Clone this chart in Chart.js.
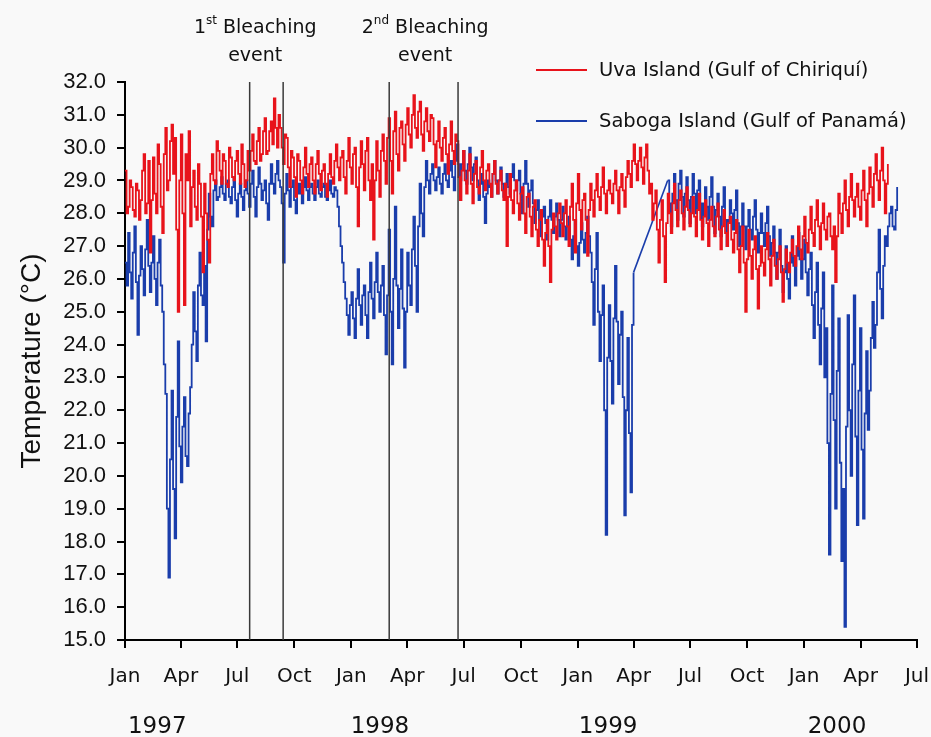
<!DOCTYPE html>
<html>
<head>
<meta charset="utf-8">
<script src="https://cdn.jsdelivr.net/npm/chart.js@4.4.1/dist/chart.umd.min.js"></script>
<style>
  html, body { margin: 0; padding: 0; background: #f9f9f9; }
  #wrap { width: 931px; height: 737px; }
</style>
</head>
<body>
<div id="wrap"><canvas id="tempChart" width="931" height="737"></canvas></div>
<script>
// one reading every 2.5 days, starting 1 Jan 1997
const STEP_DAYS = 2.5;

// Uva Island (Gulf of Chiriqui), deg C
const uvaTemps = [
  29.3, 28.0, 28.2, 29.0, 28.8, 28.1, 27.9, 28.9, 28.7, 27.8, 28.4, 29.3, 29.8, 28.0, 28.3, 29.6, 26.8, 28.4, 29.7, 28.6,
  28.0, 30.1, 29.5, 28.2, 27.4, 29.8, 30.6, 28.7, 29.0, 30.2, 30.7, 29.2, 30.3, 27.5, 25.0, 29.0, 30.4, 28.0, 25.2, 29.8,
  29.0, 30.5, 27.6, 28.8, 29.3, 28.2, 27.8, 29.5, 28.9, 27.9, 26.2, 28.9, 28.0, 27.2, 26.5, 29.2, 29.8, 29.0, 28.9, 30.2,
  29.9, 29.3, 28.9, 29.8, 29.6, 28.9, 28.8, 30.0, 29.7, 29.1, 29.0, 29.6, 29.9, 29.2, 28.9, 30.1, 29.5, 28.8, 29.0, 29.9,
  29.3, 29.9, 30.4, 29.6, 29.5, 30.2, 30.6, 29.6, 29.8, 30.5, 30.9, 29.8, 29.9, 30.5, 30.8, 30.1, 31.5, 30.6, 30.0, 31.0,
  30.6, 30.0, 29.5, 30.4, 30.3, 29.4, 28.8, 29.9, 29.7, 29.1, 28.5, 29.8, 29.6, 29.0, 28.6, 29.4, 30.0, 29.2, 28.8, 29.5,
  29.7, 29.0, 28.6, 29.5, 29.9, 29.2, 28.7, 29.3, 29.5, 28.9, 28.5, 29.2, 29.8, 29.1, 28.9, 29.6, 30.1, 29.4, 29.0, 29.7,
  29.9, 29.1, 28.6, 29.6, 30.3, 29.4, 28.9, 29.8, 30.0, 28.8, 27.6, 29.4, 30.2, 29.5, 28.7, 29.9, 30.3, 29.0, 28.4, 29.5,
  27.2, 29.0, 30.2, 29.3, 28.5, 29.9, 30.4, 29.6, 28.9, 30.3, 30.9, 29.6, 28.6, 30.5, 31.1, 29.8, 29.3, 30.6, 30.8, 30.1,
  29.6, 30.7, 31.2, 30.4, 30.0, 31.0, 31.6, 30.6, 30.3, 31.1, 31.4, 30.4, 29.9, 30.8, 31.2, 30.5, 30.2, 31.0, 30.9, 30.1,
  29.4, 30.2, 30.8, 30.0, 29.6, 30.3, 30.6, 29.8, 29.2, 30.1, 30.8, 29.9, 29.5, 30.4, 30.2, 29.1, 28.4, 29.3, 29.9, 29.0,
  28.6, 29.3, 29.8, 28.9, 28.3, 29.2, 29.6, 28.8, 28.6, 29.4, 29.9, 29.0, 28.7, 29.3, 29.5, 28.9, 28.5, 29.2, 29.6, 28.9,
  28.6, 29.0, 29.3, 28.7, 28.4, 28.9, 27.0, 28.5, 29.2, 28.4, 28.0, 28.7, 29.0, 28.3, 27.8, 28.6, 28.8, 28.0, 27.4, 28.5,
  28.6, 27.9, 27.3, 28.2, 28.4, 27.5, 27.0, 27.8, 28.1, 27.2, 26.4, 27.4, 27.8, 27.0, 25.9, 27.5, 28.0, 27.6, 27.2, 28.0,
  28.3, 27.7, 27.3, 28.0, 28.4, 27.6, 27.0, 28.2, 28.9, 27.8, 26.8, 28.3, 29.2, 28.1, 27.5, 28.4, 28.6, 27.8, 26.7, 28.1,
  28.9, 28.4, 27.9, 28.7, 29.2, 28.5, 28.1, 28.8, 29.4, 28.6, 28.0, 28.7, 29.0, 28.6, 28.3, 28.9, 29.3, 28.7, 28.0, 28.8,
  29.2, 28.7, 28.2, 29.1, 29.6, 29.2, 28.8, 29.6, 30.1, 29.5, 29.0, 29.6, 30.0, 29.4, 28.9, 29.7, 30.1, 29.3, 28.6, 28.9,
  27.8, 28.3, 28.7, 27.5, 26.5, 27.8, 28.4, 27.3, 25.9, 27.7, 28.6, 28.0, 27.4, 28.3, 28.9, 28.1, 27.6, 28.4, 28.7, 28.0,
  27.5, 28.2, 28.8, 28.1, 27.6, 28.0, 28.5, 27.9, 27.3, 28.1, 28.6, 27.8, 27.2, 27.9, 28.4, 27.7, 27.0, 27.8, 28.2, 27.6,
  27.3, 27.9, 28.3, 27.5, 26.9, 27.6, 28.1, 27.4, 27.0, 27.7, 27.9, 27.2, 26.8, 27.4, 27.8, 26.9, 26.2, 27.0, 27.6, 26.5,
  25.0, 26.6, 27.5, 26.7, 26.0, 26.9, 27.3, 26.3, 25.1, 26.4, 27.0, 26.5, 26.1, 26.9, 27.4, 26.6, 25.8, 26.7, 27.2, 26.4,
  26.0, 26.6, 27.0, 26.2, 25.3, 26.3, 26.9, 26.5, 26.2, 26.8, 27.2, 26.7, 26.4, 27.0, 27.6, 26.9, 26.6, 27.3, 27.9, 27.1,
  26.8, 27.5, 28.2, 27.4, 27.0, 27.8, 28.4, 27.6, 26.9, 27.7, 28.3, 27.5, 27.2, 27.9, 28.0, 27.3, 26.9, 27.6, 25.9, 27.3,
  28.6, 28.0, 27.4, 28.3, 29.0, 28.1, 27.6, 28.5, 29.2, 28.4, 27.9, 28.5, 28.9, 28.2, 27.8, 28.7, 29.3, 28.4, 27.6, 28.6,
  29.4, 28.8, 28.2, 29.2, 29.8, 29.0, 28.4, 29.3, 30.0, 29.0, 28.0, 28.9, 29.5
];

// Saboga Island (Gulf of Panama), deg C; null = no logger data
const sabogaTemps = [
  26.5, 25.8, 27.4, 26.2, 25.4, 26.8, 27.6, 25.9, 24.3, 26.1, 27.0, 26.3, 25.5, 26.9, 27.8, 26.4, 25.6, 26.5, 27.3, 26.0,
  25.2, 26.5, 27.2, 25.8, 25.0, 23.4, 22.5, 19.0, 16.9, 20.5, 22.6, 19.6, 18.1, 21.8, 24.1, 20.9, 19.8, 21.5, 22.4, 20.6,
  20.3, 21.9, 22.7, 24.0, 25.6, 24.4, 23.5, 25.8, 26.8, 25.5, 25.2, 26.4, 24.1, 27.5, 28.6, 27.9, 27.6, 28.7, 29.0, 28.4,
  28.5, 28.8, 29.1, 28.6, 28.4, 28.9, 29.0, 28.5, 28.3, 28.8, 29.1, 28.4, 27.9, 28.6, 28.9, 28.5, 28.1, 28.7, 29.0, 28.6,
  28.2, 28.9, 29.3, 28.5, 27.9, 28.8, 29.4, 28.9, 28.4, 28.7, 29.0, 28.3, 27.8, 28.9, 29.5, 28.9, 28.6, 29.2, 29.6, 29.0,
  28.8, 28.3, 26.5, 28.6, 29.2, 28.7, 28.2, 28.8, 29.0, 28.4, 28.0, 28.6, 28.9, 28.6, 28.3, 28.8, 29.1, 28.7, 28.4, 28.8,
  28.9, 28.6, 28.4, 28.8, 29.0, 28.6, 28.5, 28.8, 28.9, 28.5, 28.4, 28.7, 29.0, 28.6, 28.5, 28.8, 28.7, 28.2, 27.6, 27.0,
  26.5, 25.9, 25.4, 24.9, 24.3, 25.2, 25.6, 24.8, 24.2, 25.4, 26.3, 25.2, 24.6, 25.5, 25.8, 24.9, 24.2, 25.6, 26.5, 25.4,
  24.8, 25.9, 26.8, 25.6, 25.0, 25.8, 26.4, 24.9, 23.7, 25.5, 27.5, 25.0, 23.4, 26.0, 28.2, 25.8, 24.5, 25.7, 26.9, 25.1,
  23.3, 25.0, 26.8, 25.8, 25.2, 26.9, 27.9, 26.4, 25.0, 27.6, 28.9, 28.0, 27.3, 28.8, 29.6, 29.0, 28.6, 29.2, 29.5, 29.0,
  28.7, 29.1, 29.4, 28.9, 28.6, 29.2, 29.5, 29.0, 28.8, 29.3, 29.6, 29.1, 28.7, 29.6, 30.1, 29.5, 29.0, 29.5, 29.9, 29.3,
  28.9, 29.5, 30.0, 29.4, 29.0, 29.5, 29.7, 29.0, 28.4, 28.9, 29.2, 28.5, 27.7, 28.6, 29.0, 28.8, 28.5, 29.2, 29.6, 29.0,
  28.6, 29.0, 29.4, 28.9, 28.5, 28.9, 29.2, 28.8, 28.6, 29.1, 29.5, 29.0, 28.7, 29.0, 29.3, 28.6, 28.0, 28.9, 29.6, 28.9,
  28.2, 28.7, 29.0, 28.3, 27.7, 28.1, 28.4, 27.8, 27.3, 27.9, 28.2, 27.7, 27.2, 27.9, 28.4, 27.8, 27.4, 27.9, 28.3, 27.8,
  27.3, 27.8, 28.2, 27.6, 27.2, 27.6, 27.9, 27.2, 26.6, 27.3, 27.8, 27.0, 26.4, 27.1, 27.7, 27.2, 26.8, 27.4, 27.9, 27.3,
  26.8, 25.9, 24.6, 26.3, 27.4, 25.0, 23.5, 24.9, 25.8, 22.0, 18.2, 23.6, 25.2, 23.5, 22.2, 24.8, 26.4, 24.7, 22.8, 24.3,
  25.0, 22.4, 18.8, 22.0, 24.2, 21.3, 19.5, 24.6, 26.2, null, null, null, null, null, null, null, null, null, null, null,
  null, null, null, null, null, null, null, null, null, null, 29.0, 28.3, 27.6, 28.6, 29.2, 28.4, 27.8, 28.9, 29.3, 28.5,
  27.9, 28.6, 29.1, 28.4, 27.7, 28.5, 29.2, 28.6, 28.0, 28.7, 29.0, 28.3, 27.6, 28.3, 28.8, 28.2, 27.8, 28.5, 29.1, 28.2,
  27.4, 28.1, 28.6, 27.9, 27.3, 28.2, 28.8, 27.8, 27.0, 27.8, 28.4, 28.0, 27.5, 28.1, 28.7, 27.7, 27.0, 27.6, 28.3, 27.6,
  26.9, 27.6, 28.1, 27.5, 27.2, 27.9, 28.4, 27.5, 26.8, 27.4, 28.0, 27.4, 27.0, 27.7, 28.2, 27.3, 26.7, 27.1, 27.6, 26.8,
  26.0, 26.8, 27.5, 26.4, 25.6, 26.2, 27.0, 26.0, 25.4, 26.5, 27.3, 26.4, 25.8, 26.7, 27.4, 26.6, 26.0, 26.6, 27.2, 26.2,
  25.5, 26.3, 26.8, 25.2, 24.2, 25.6, 26.5, 24.6, 23.4, 25.1, 26.2, 23.0, 24.5, 21.0, 17.6, 22.5, 25.8, 21.7, 19.0, 23.2,
  24.8, 20.4, 17.4, 19.6, 15.4, 21.5, 24.9, 22.0, 20.0, 23.4, 25.5, 21.2, 18.5, 22.6, 24.5, 20.8, 18.7, 21.9, 23.8, 21.4,
  22.6, 24.2, 25.3, 23.9, 24.6, 26.2, 27.5, 25.7, 24.8, 26.4, 27.3, 27.0, 27.6, 28.0, 28.2, 27.6, 27.5, 28.1, 28.8
];

// x axis: days since 1 Jan 1997
const tickDays = [0, 90, 181, 273, 365, 455, 546, 638, 730, 820, 911, 1003, 1095, 1186, 1277];
const tickLabels = ["Jan", "Apr", "Jul", "Oct", "Jan", "Apr", "Jul", "Oct",
                    "Jan", "Apr", "Jul", "Oct", "Jan", "Apr", "Jul"];
const yearLabels = ["1997", "1998", "1999", "2000"];
const yearLabelDays = [52, 411, 779, 1148];

// bleaching events (start / end lines)
const eventLineDays = [201, 255, 426, 537];
const eventLabelDays = [210, 484];
const eventOrdinals = [["1", "st"], ["2", "nd"]];

const seriesNames = ["Uva Island (Gulf of Chiriquí)", "Saboga Island (Gulf of Panamá)"];
const seriesColors = ["#e8131b", "#1a3dab"];

const toPoints = (arr) => arr.map((v, i) => ({ x: i * STEP_DAYS, y: v }));

// Saboga logger gap: straight join between the last reading before and the first after it
const sabogaPoints = toPoints(sabogaTemps);
const gapStart = sabogaTemps.indexOf(null) - 1;
const gapEnd = sabogaTemps.lastIndexOf(null) + 1;
const sabogaGap = [sabogaPoints[gapStart], sabogaPoints[gapEnd]];

const textFont = "DejaVu Sans";

const annotationPlugin = {
  id: "annotations",
  afterDatasetsDraw(chart) {
    const { ctx, chartArea, scales: { x } } = chart;
    ctx.save();
    ctx.strokeStyle = "#3a3a3a";
    ctx.lineWidth = 1.5;
    eventLineDays.forEach((d) => {
      const px = x.getPixelForValue(d);
      ctx.beginPath();
      ctx.moveTo(px, chartArea.top);
      ctx.lineTo(px, chartArea.bottom);
      ctx.stroke();
    });
    ctx.restore();
  },
  afterDraw(chart) {
    const { ctx, scales: { x } } = chart;
    ctx.save();
    ctx.fillStyle = "#111";

    // bleaching event labels
    eventLabelDays.forEach((d, i) => {
      const cx = x.getPixelForValue(d);
      const [num, sup] = eventOrdinals[i];
      ctx.font = "19px " + textFont;
      const wNum = ctx.measureText(num).width;
      const wRest = ctx.measureText(" Bleaching").width;
      ctx.font = "12px " + textFont;
      const wSup = ctx.measureText(sup).width;
      const sx = cx - (wNum + wSup + wRest) / 2;
      ctx.textAlign = "left";
      ctx.textBaseline = "alphabetic";
      ctx.font = "19px " + textFont;
      ctx.fillText(num, sx, 33);
      ctx.font = "12px " + textFont;
      ctx.fillText(sup, sx + wNum, 24);
      ctx.font = "19px " + textFont;
      ctx.fillText(" Bleaching", sx + wNum + wSup, 33);
      ctx.textAlign = "center";
      ctx.fillText("event", cx, 61);
    });

    // year labels
    ctx.font = "23px " + textFont;
    ctx.textAlign = "center";
    ctx.textBaseline = "alphabetic";
    yearLabels.forEach((label, i) => {
      ctx.fillText(label, x.getPixelForValue(yearLabelDays[i]), 733);
    });

    // legend
    ctx.font = "19.5px " + textFont;
    ctx.textAlign = "left";
    ctx.textBaseline = "middle";
    const legendY = [70, 121];
    seriesNames.forEach((name, i) => {
      ctx.strokeStyle = seriesColors[i];
      ctx.lineWidth = 2;
      ctx.beginPath();
      ctx.moveTo(536, legendY[i]);
      ctx.lineTo(587, legendY[i]);
      ctx.stroke();
      ctx.fillStyle = "#111";
      ctx.fillText(name, 599, legendY[i] + 1);
    });
    ctx.restore();
  }
};

const axisGrid = { drawOnChartArea: false, drawTicks: true, tickLength: 8, color: "#000", lineWidth: 2 };
const axisBorder = { display: true, color: "#000", width: 2 };

const ctx = document.getElementById("tempChart").getContext("2d");
new Chart(ctx, {
  type: "line",
  data: {
    datasets: [
      {
        label: seriesNames[0],
        data: toPoints(uvaTemps),
        borderColor: seriesColors[0],
        borderWidth: 1.8,
        pointRadius: 0,
        stepped: true,
      },
      {
        label: seriesNames[1],
        data: sabogaPoints,
        borderColor: seriesColors[1],
        borderWidth: 1.8,
        pointRadius: 0,
        stepped: true,
        spanGaps: false,
      },
      {
        label: "gap",
        data: sabogaGap,
        borderColor: seriesColors[1],
        borderWidth: 1.6,
        pointRadius: 0,
        tension: 0,
      },
    ],
  },
  options: {
    responsive: false,
    animation: false,
    layout: { padding: { top: 82, right: 14, left: 0, bottom: 0 } },
    plugins: {
      legend: { display: false },
      tooltip: { enabled: false },
    },
    scales: {
      x: {
        type: "linear",
        min: 0,
        max: 1277,
        afterBuildTicks: (scale) => {
          scale.ticks = tickDays.map((v) => ({ value: v }));
        },
        afterFit: (scale) => {
          scale.height = 97;
          scale.paddingLeft = 0;
          scale.paddingRight = 0;
        },
        ticks: {
          autoSkip: false,
          maxRotation: 0,
          padding: 17,
          color: "#111",
          font: { family: textFont, size: 20 },
          callback: (v, i) => tickLabels[i],
        },
        grid: axisGrid,
        border: axisBorder,
      },
      y: {
        min: 15,
        max: 32,
        afterFit: (scale) => {
          scale.width = 125;
        },
        ticks: {
          stepSize: 1,
          padding: 11,
          color: "#111",
          font: { family: "Liberation Sans", size: 22 },
          callback: (v) => v.toFixed(1),
        },
        grid: axisGrid,
        border: axisBorder,
        title: {
          display: true,
          text: "Temperature (°C)",
          color: "#111",
          font: { family: "Liberation Sans", size: 28 },
          padding: { top: 15, bottom: 0 },
        },
      },
    },
  },
  plugins: [annotationPlugin],
});
</script>
</body>
</html>
